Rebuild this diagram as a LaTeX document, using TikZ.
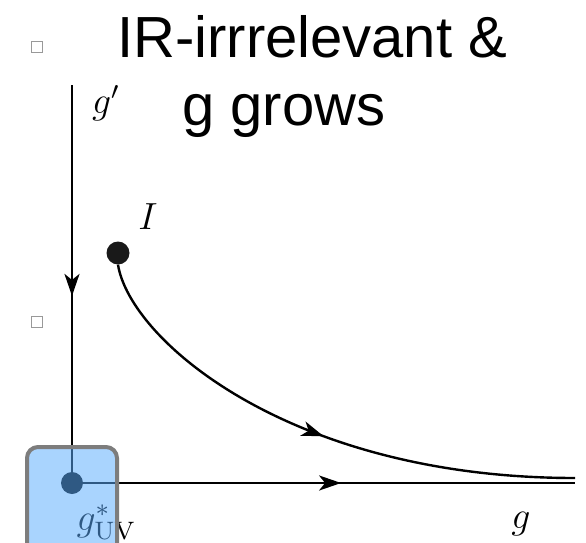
\documentclass[tikz,border=0pt]{standalone}
\usepackage[no-math]{fontspec}
\setmainfont{Liberation Sans}
\usetikzlibrary{arrows.meta,decorations.markings}
\definecolor{boxblue}{RGB}{91,172,253}
\definecolor{boxgray}{RGB}{125,125,125}
\begin{document}
\begin{tikzpicture}[x=1pt,y=-1pt,
  axis/.style={line width=2.4pt,black},
  midarrow/.style={postaction={decorate},decoration={markings,
     mark=at position #1 with {\arrow{Stealth[length=22pt,width=15pt,inset=6pt]}}}},
  bullet/.style={draw=gray!80,line width=0.9pt,minimum size=11pt,inner sep=0pt},
  titletext/.style={font=\fontsize{58}{60}\selectfont,anchor=base west,inner sep=0pt},
  mlabel/.style={font=\fontsize{12}{14}\selectfont,inner sep=0pt,transform shape,scale=3.15}]
\useasboundingbox (0,0) rectangle (586,543);
% bullets
\node[bullet] (b1) at (37,47) {};
\node[bullet] (b2) at (37,322) {};
% title
\node[titletext] (t1) at (117,57) {IR-irrrelevant \&};
\node[titletext] (t2) at (182,125) {g grows};
% axes
\coordinate (top) at (72,85);
\coordinate (right) at (575,483);
\coordinate (curveend) at (575,478);
\node[circle,fill=black,minimum size=22pt,inner sep=0pt] (uv) at (72,483) {};
\node[circle,fill=black!90,minimum size=23pt,inner sep=0pt] (I) at (118,253) {};
\draw[axis,midarrow=0.53] (top) -- (uv.center);
\draw[axis,midarrow=0.535] (uv.center) -- (right);
\draw[axis,midarrow=0.52] (I.south) .. controls (130,340) and (290,478) .. (curveend);
% labels
\node[mlabel] (gp) at (106,103) {$g'$};
\node[mlabel] (Il) at (148,217) {$I$};
\node[mlabel] (gl) at (521,524) {$g$};
\node[mlabel,anchor=base west] (guv) at (76,530) {$g^{*}_{\mathrm{UV}}$};
% box
\draw[boxgray,line width=4pt,fill=boxblue,fill opacity=0.52,rounded corners=11pt]
  (27,447) rectangle (117,560);
\end{tikzpicture}
\end{document}
